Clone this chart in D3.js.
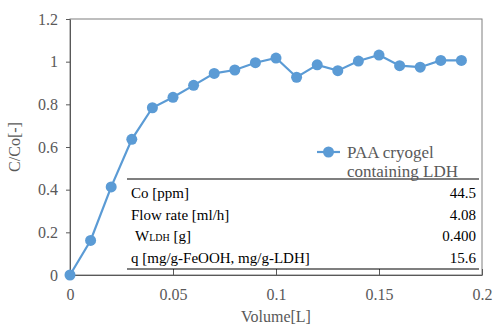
<!DOCTYPE html>
<html>
<head>
<meta charset="utf-8">
<script src="https://cdn.jsdelivr.net/npm/d3@7"></script>
<style>
  body { margin: 0; background: #fff; }
</style>
</head>
<body>
<svg id="chart" width="494" height="326"></svg>
<script>
// breakthrough curve data
const volumes = [0, 0.01, 0.02, 0.03, 0.04, 0.05, 0.06, 0.07, 0.08, 0.09, 0.1, 0.11, 0.12, 0.13, 0.14, 0.15, 0.16, 0.17, 0.18, 0.19]
const ratios = [0, 0.162, 0.413, 0.636, 0.784, 0.833, 0.889, 0.945, 0.961, 0.995, 1.017, 0.927, 0.985, 0.958, 1.003, 1.031, 0.981, 0.974, 1.006, 1.006]
const xTicks = [0, 0.05, 0.1, 0.15, 0.2]
const yTicks = [0, 0.2, 0.4, 0.6, 0.8, 1, 1.2]
const seriesName = ['PAA cryogel', 'containing LDH']
const tableLabels = ['Co [ppm]', 'Flow rate [ml/h]', 'W', 'q [mg/g-FeOOH, mg/g-LDH]']
const tableValues = ['44.5', '4.08', '0.400', '15.6']

const blue = '#5B9BD5'
const grey = '#595959'
const serif = "'Liberation Serif', serif"

const svg = d3.select('#chart')
const margin = {left: 70, top: 19, right: 12, bottom: 51}
const width = 494 - margin.left - margin.right
const height = 326 - margin.top - margin.bottom

const x = d3.scaleLinear().domain([0, 0.2]).range([0, width])
const y = d3.scaleLinear().domain([0, 1.2]).range([height, 0])

const g = svg.append('g').attr('transform', 'translate(' + margin.left + ',' + margin.top + ')')

// frame
g.append('rect').attr('x', 0).attr('y', 0).attr('width', width).attr('height', height)
  .attr('fill', 'none').attr('stroke', '#7f7f7f').attr('stroke-width', 1)

// axes
const xAxis = g.append('g').attr('transform', 'translate(0,' + height + ')')
  .call(d3.axisBottom(x).tickValues(xTicks).tickSizeInner(-6).tickSizeOuter(0).tickPadding(14).tickFormat(d3.format('')))
const yAxis = g.append('g')
  .call(d3.axisLeft(y).tickValues(yTicks).tickSizeInner(4).tickSizeOuter(0).tickPadding(8).tickFormat(d3.format('')))

;[xAxis, yAxis].forEach(a => {
  a.select('.domain').attr('stroke', grey)
  a.selectAll('.tick line').attr('stroke', grey)
  a.selectAll('.tick text').attr('fill', grey).style('font-size', '16px')
})

// axis titles
svg.append('text').attr('x', margin.left + x(0.1)).attr('y', 322)
  .attr('text-anchor', 'middle').attr('fill', grey).style('font-size', '16px').text('Volume[L]')
svg.append('text').attr('transform', 'translate(20,' + 147 + ') rotate(-90)')
  .attr('text-anchor', 'middle').attr('fill', grey).style('font-size', '16px').text('C/Co[-]')

// parameter table
const tbl = g.append('g')
const tLeft = 57, tRight = 409, tTop = 160, rowH = 21.5
tbl.append('line').attr('x1', tLeft).attr('x2', tRight).attr('y1', tTop).attr('y2', tTop).attr('stroke', '#000').attr('stroke-width', 1.2)
tbl.append('line').attr('x1', tLeft).attr('x2', tRight).attr('y1', tTop + 90).attr('y2', tTop + 90).attr('stroke', '#000').attr('stroke-width', 1.2)
tableLabels.forEach((lab, i) => {
  const t = tbl.append('text').attr('x', tLeft + 4 + (i == 2 ? 4 : 0)).attr('y', tTop + 19 + i * rowH)
    .style('font-size', '15px').attr('fill', '#000')
  if (i == 2) {
    t.append('tspan').text(lab)
    t.append('tspan').style('font-size', '10px').text('LDH')
    t.append('tspan').text(' [g]')
  } else {
    t.text(lab)
  }
  tbl.append('text').attr('x', tRight - 3).attr('y', tTop + 19 + i * rowH)
    .attr('text-anchor', 'end').style('font-size', '15px').attr('fill', '#000').text(tableValues[i])
})

// series line and markers
const line = d3.line().x((d, i) => x(volumes[i])).y(d => y(d))
g.append('path').datum(ratios).attr('d', line)
  .attr('fill', 'none').attr('stroke', blue).attr('stroke-width', 2.2)
g.selectAll('.pt').data(ratios).enter().append('circle').attr('class', 'pt')
  .attr('cx', (d, i) => x(volumes[i])).attr('cy', d => y(d)).attr('r', 5.5).attr('fill', blue)

// legend
const lg = g.append('g').attr('transform', 'translate(247,133)')
lg.append('line').attr('x1', 0).attr('x2', 23).attr('y1', 0).attr('y2', 0).attr('stroke', blue).attr('stroke-width', 2.2)
lg.append('circle').attr('cx', 11.5).attr('cy', 0).attr('r', 5.5).attr('fill', blue)
lg.append('text').attr('x', 30).attr('y', 5.5).style('font-size', '17px').attr('fill', grey).text(seriesName[0])
lg.append('text').attr('x', 30).attr('y', 24.5).style('font-size', '17px').attr('fill', grey).text(seriesName[1])

svg.selectAll('text').style('font-family', serif)
</script>
</body>
</html>
